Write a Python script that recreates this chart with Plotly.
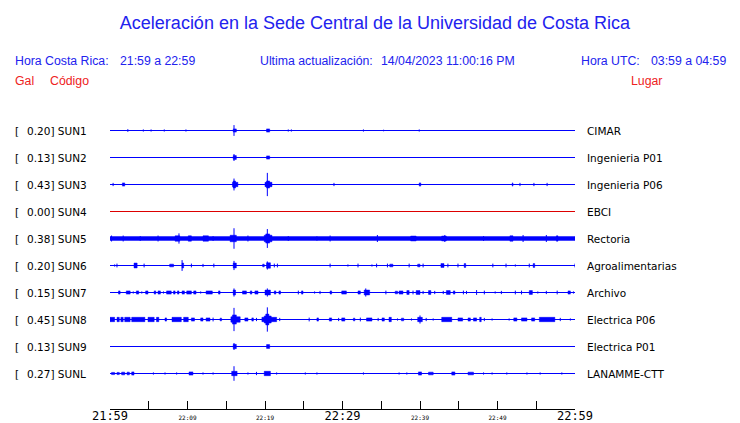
import plotly.graph_objects as go

# ---------------- data ----------------
CODES = ["SUN1", "SUN2", "SUN3", "SUN4", "SUN5", "SUN6", "SUN7", "SUN8", "SUN9", "SUNL"]
PEAKS = [0.20, 0.13, 0.43, 0.00, 0.38, 0.20, 0.15, 0.45, 0.13, 0.27]  # Gal
PLACES = ["CIMAR", "Ingenieria P01", "Ingenieria P06", "EBCI", "Rectoria",
          "Agroalimentarias", "Archivo", "Electrica P06", "Electrica P01", "LANAMME-CTT"]

TICK_MIN = [0, 5, 10, 15, 20, 25, 30, 35, 40, 45, 50, 55, 60]
TICK_LABELS = ["21:59", "", "22:09", "", "22:19", "", "22:29", "", "22:39", "", "22:49", "", "22:59"]
MAJOR_LABELS = ["21:59", "22:29", "22:59"]

TITLE = "Aceleración en la Sede Central de la Universidad de Costa Rica"
HORA_CR = "21:59 a 22:59"
UPDATED = "14/04/2023 11:00:16 PM"
HORA_UTC = "03:59 a 04:59"

# events: (start minute, end minute, half amplitude in Gal), minutes after 21:59
SUN1 = [(2.3, 2.3, 0.05), (4.3, 4.3, 0.04), (5.3, 5.3, 0.04), (7.0, 7.0, 0.04), (9.8, 9.8, 0.04),
        (15.9, 16.3, 0.06), (16.0, 16.0, 0.20), (20.2, 20.6, 0.06), (23.0, 23.0, 0.04),
        (23.4, 23.4, 0.04), (32.7, 32.7, 0.04), (35.3, 35.3, 0.03), (39.9, 39.9, 0.04)]
SUN2 = [(15.9, 16.3, 0.07), (16.0, 16.0, 0.13), (20.2, 20.6, 0.06)]
SUN3 = [(0.4, 0.4, 0.06), (1.6, 1.9, 0.06), (15.8, 16.5, 0.08), (15.9, 16.2, 0.13),
        (16.0, 16.0, 0.22), (20.0, 20.9, 0.08), (20.2, 20.6, 0.13), (20.3, 20.3, 0.43),
        (28.9, 28.9, 0.06), (39.9, 40.1, 0.06), (51.9, 52.0, 0.06), (52.9, 52.9, 0.06),
        (54.7, 54.7, 0.06), (56.4, 56.4, 0.06)]
SUN4 = []
SUN5 = [(0.0, 60.0, 0.07), (0.2, 0.2, 0.11), (1.7, 1.7, 0.11), (3.9, 3.9, 0.09), (6.2, 6.2, 0.11),
        (8.4, 9.0, 0.10), (8.9, 8.9, 0.19), (10.1, 10.5, 0.10), (12.0, 12.7, 0.10),
        (13.3, 13.3, 0.09), (15.5, 16.3, 0.12), (16.0, 16.0, 0.38), (17.8, 17.8, 0.11),
        (19.9, 20.9, 0.12), (20.1, 20.6, 0.17), (20.3, 20.3, 0.35), (23.0, 23.0, 0.09),
        (26.7, 26.7, 0.08), (28.4, 28.4, 0.11), (34.5, 34.5, 0.13), (38.8, 39.5, 0.09),
        (42.8, 43.4, 0.09), (43.2, 43.2, 0.13), (48.2, 48.2, 0.09), (51.6, 52.0, 0.10),
        (53.3, 53.3, 0.13), (56.3, 56.3, 0.13), (57.6, 57.8, 0.10)]
SUN6 = [(0.6, 0.6, 0.04), (0.9, 0.9, 0.07), (3.1, 3.5, 0.09), (4.4, 4.4, 0.07), (7.7, 8.2, 0.05),
        (9.3, 9.3, 0.20), (9.3, 9.5, 0.09), (10.5, 10.5, 0.07), (12.0, 12.0, 0.06),
        (13.4, 13.4, 0.07), (15.9, 16.3, 0.09), (16.0, 16.0, 0.17), (19.7, 19.9, 0.05),
        (20.2, 20.7, 0.10), (20.3, 20.3, 0.15), (21.2, 21.2, 0.07), (21.6, 21.6, 0.07),
        (28.4, 28.4, 0.07), (30.7, 30.7, 0.04), (32.0, 32.0, 0.07), (33.8, 33.8, 0.04),
        (34.4, 34.4, 0.07), (35.8, 35.8, 0.07), (36.1, 36.5, 0.05), (38.6, 38.6, 0.07),
        (39.7, 40.0, 0.05), (40.4, 40.4, 0.07), (42.7, 43.1, 0.07), (43.6, 43.6, 0.07),
        (44.9, 44.9, 0.07), (45.7, 45.9, 0.07), (49.4, 49.4, 0.07), (51.1, 51.1, 0.07),
        (52.3, 52.3, 0.04), (54.1, 54.1, 0.07), (54.6, 54.8, 0.07), (60.0, 60.0, 0.07)]
SUN7 = [(1.1, 1.3, 0.06), (2.1, 2.6, 0.06), (3.0, 3.0, 0.04), (3.4, 3.7, 0.06), (4.1, 4.1, 0.04),
        (4.6, 4.9, 0.06), (5.7, 5.9, 0.06), (6.2, 6.5, 0.06), (6.9, 6.9, 0.04), (7.3, 7.9, 0.06),
        (8.2, 8.4, 0.06), (8.7, 8.9, 0.06), (9.3, 9.6, 0.06), (9.9, 10.5, 0.06), (10.8, 11.1, 0.06),
        (11.7, 11.7, 0.04), (12.4, 13.2, 0.06), (14.0, 14.2, 0.06), (15.9, 16.2, 0.09),
        (16.0, 16.0, 0.15), (17.1, 17.6, 0.06), (18.1, 18.3, 0.06), (18.7, 19.1, 0.06),
        (20.0, 20.7, 0.09), (20.3, 20.3, 0.15), (21.2, 21.4, 0.06), (21.8, 22.0, 0.06),
        (24.3, 24.3, 0.07), (24.7, 24.9, 0.06), (26.4, 26.4, 0.04), (27.1, 27.1, 0.06),
        (28.4, 28.6, 0.06), (29.9, 30.5, 0.06), (32.0, 32.3, 0.06), (32.8, 33.5, 0.09),
        (33.0, 33.0, 0.15), (35.6, 35.6, 0.07), (36.8, 37.1, 0.05), (37.3, 37.8, 0.06),
        (38.3, 38.6, 0.07), (39.1, 39.1, 0.07), (39.5, 40.0, 0.07), (40.4, 40.4, 0.06),
        (41.1, 41.4, 0.07), (41.9, 41.9, 0.06), (43.0, 43.0, 0.06), (43.4, 43.9, 0.07),
        (44.3, 44.5, 0.06), (45.6, 45.6, 0.07), (46.0, 46.0, 0.06), (47.3, 47.3, 0.09),
        (48.3, 48.3, 0.07), (49.7, 49.7, 0.04), (50.5, 50.5, 0.06), (52.3, 52.3, 0.07),
        (53.1, 53.1, 0.07), (54.1, 54.5, 0.07), (55.2, 55.2, 0.04), (56.3, 56.3, 0.06),
        (57.7, 57.7, 0.07), (59.1, 59.4, 0.06), (59.8, 59.8, 0.04)]
SUN8 = [(0.0, 0.6, 0.08), (0.9, 1.2, 0.08), (1.4, 1.7, 0.08), (1.9, 2.6, 0.08), (2.8, 4.5, 0.08),
        (4.9, 5.7, 0.08), (6.0, 6.3, 0.08), (7.1, 7.3, 0.06), (8.0, 9.2, 0.08), (9.5, 10.1, 0.08),
        (10.5, 10.9, 0.06), (11.7, 12.0, 0.06), (12.4, 12.9, 0.06), (13.3, 13.3, 0.07),
        (14.2, 14.4, 0.05), (15.6, 16.8, 0.10), (15.8, 16.3, 0.17), (16.0, 16.0, 0.43),
        (17.4, 17.8, 0.06), (18.3, 18.5, 0.06), (18.9, 18.9, 0.06), (19.6, 21.5, 0.08),
        (19.9, 20.8, 0.13), (20.1, 20.5, 0.20), (20.3, 20.3, 0.45), (21.9, 21.9, 0.06),
        (25.7, 25.7, 0.07), (26.7, 26.9, 0.06), (28.3, 28.6, 0.06), (29.5, 29.5, 0.06),
        (29.9, 30.3, 0.06), (31.4, 31.6, 0.05), (32.3, 32.3, 0.07), (33.1, 33.8, 0.06),
        (34.6, 34.6, 0.06), (35.1, 35.4, 0.06), (36.0, 36.3, 0.08), (37.1, 37.1, 0.04),
        (37.6, 37.9, 0.05), (38.9, 38.9, 0.04), (39.7, 40.3, 0.08), (40.0, 40.0, 0.15),
        (40.8, 40.8, 0.06), (41.7, 41.7, 0.04), (42.8, 44.1, 0.08), (44.9, 45.5, 0.06),
        (46.2, 46.5, 0.06), (46.9, 47.3, 0.06), (47.7, 47.9, 0.08), (48.3, 48.3, 0.06),
        (49.3, 49.3, 0.04), (51.5, 51.5, 0.04), (52.1, 52.5, 0.06), (53.1, 53.8, 0.06),
        (54.4, 54.8, 0.06), (55.4, 57.4, 0.08), (58.1, 58.1, 0.06), (59.4, 59.4, 0.04)]
SUN9 = [(15.9, 16.3, 0.08), (16.0, 16.0, 0.13), (20.2, 20.6, 0.07)]
SUNL = [(0.2, 0.6, 0.04), (0.9, 1.2, 0.04), (1.5, 1.9, 0.05), (2.2, 2.5, 0.05), (2.8, 3.1, 0.06),
        (5.6, 5.6, 0.04), (7.1, 7.1, 0.04), (8.6, 8.6, 0.04), (10.2, 10.7, 0.06), (12.0, 12.0, 0.04),
        (13.3, 13.3, 0.04), (15.7, 16.4, 0.08), (16.0, 16.0, 0.27), (17.8, 17.8, 0.04),
        (18.9, 18.9, 0.06), (19.9, 20.7, 0.08), (21.5, 21.5, 0.04), (25.2, 25.2, 0.04),
        (26.7, 26.7, 0.04), (32.7, 32.7, 0.04), (37.3, 37.3, 0.04), (38.3, 38.3, 0.04),
        (39.8, 40.2, 0.06), (41.1, 41.7, 0.05), (44.1, 44.5, 0.06), (46.2, 46.9, 0.05),
        (48.2, 48.2, 0.04), (49.3, 49.3, 0.04), (51.2, 51.2, 0.04), (53.8, 53.8, 0.04),
        (55.5, 55.5, 0.04), (58.3, 58.3, 0.04)]
EVENTS = [SUN1, SUN2, SUN3, SUN4, SUN5, SUN6, SUN7, SUN8, SUN9, SUNL]

# ---------------- styling / layout ----------------
W, H = 740, 423
ML, MR, MT, MB = 110, 165, 100, 14
PW, PH = W - ML - MR, H - MT - MB
ROW0_PX, ROW_PX = 130.5, 27.0
BLUE_TRACE = "#0000ff"
BLUE_TEXT = "#2222ee"
RED_TEXT = "#ee2222"
RED_TRACE = "#dd0000"
ANN_PAD = 2  # annotation internal padding in px


def px2paper(x, y):
    return (x - ANN_PAD - ML) / PW, (H - MB - y) / PH


fig = go.Figure()
for i, (code, peak, ev) in enumerate(zip(CODES, PEAKS, EVENTS)):
    y0 = -i
    col = RED_TRACE if peak == 0 else BLUE_TRACE
    fig.add_trace(go.Scatter(x=[TICK_MIN[0], TICK_MIN[-1]], y=[y0, y0], mode="lines",
                             line=dict(color=col, width=1), hoverinfo="skip"))
    bx, by, sx, sy = [], [], [], []
    for t0, t1, a in ev:
        if t1 > t0:
            bx += [t0, t1, t1, t0, t0, None]
            by += [y0 - a, y0 - a, y0 + a, y0 + a, y0 - a, None]
        else:
            sx += [t0, t0, None]
            sy += [y0 - a, y0 + a, None]
    if bx:
        fig.add_trace(go.Scatter(x=bx, y=by, mode="lines", fill="toself", fillcolor=col,
                                 line=dict(color=col, width=0.5), hoverinfo="skip"))
    if sx:
        fig.add_trace(go.Scatter(x=sx, y=sy, mode="lines",
                                 line=dict(color=col, width=1), hoverinfo="skip"))

annotations = []
lab_font = dict(family="DejaVu Sans", size=10.5, color="#000000")
for i, (code, peak, place) in enumerate(zip(CODES, PEAKS, PLACES)):
    xb, _ = px2paper(15, 0)
    xv, _ = px2paper(27, 0)
    xp, _ = px2paper(587, 0)
    annotations.append(dict(x=xb, y=-i, xref="paper", yref="y", text="[", showarrow=False,
                            xanchor="left", yanchor="middle", font=lab_font))
    annotations.append(dict(x=xv, y=-i, xref="paper", yref="y", text=f"{peak:.2f}] {code}",
                            showarrow=False, xanchor="left", yanchor="middle", font=lab_font))
    annotations.append(dict(x=xp, y=-i, xref="paper", yref="y", text=place, showarrow=False,
                            xanchor="left", yanchor="middle", font=lab_font))

hdr_blue = dict(family="Liberation Sans", size=12.3, color=BLUE_TEXT)
hdr_red = dict(family="Liberation Sans", size=12.3, color=RED_TEXT)
for (px, py, txt, f) in [(15, 61, "Hora Costa Rica:", hdr_blue), (120, 61, HORA_CR, hdr_blue),
                         (260, 61, "Ultima actualización:", hdr_blue), (381, 61, UPDATED, hdr_blue),
                         (580.5, 61, "Hora UTC:", hdr_blue), (651, 61, HORA_UTC, hdr_blue),
                         (15, 80.5, "Gal", hdr_red), (50, 80.5, "Código", hdr_red),
                         (630.5, 80.5, "Lugar", hdr_red)]:
    x, y = px2paper(px, py)
    annotations.append(dict(x=x, y=y, xref="paper", yref="paper", text=txt, showarrow=False,
                            xanchor="left", yanchor="middle", font=f))

ticktext = [t if (t == "" or t in MAJOR_LABELS) else f"<span style='font-size:6px'>{t}</span>"
            for t in TICK_LABELS]

fig.update_layout(
    width=W, height=H, margin=dict(l=ML, r=MR, t=MT, b=MB, autoexpand=False),
    paper_bgcolor="white", plot_bgcolor="white", showlegend=False, hovermode=False,
    title=dict(text=TITLE, x=375 / W, xanchor="center", y=1 - 23 / H, yanchor="middle",
               font=dict(family="Liberation Sans", size=18, color=BLUE_TEXT)),
    annotations=annotations,
    xaxis=dict(range=[TICK_MIN[0], TICK_MIN[-1]], tickvals=TICK_MIN, ticktext=ticktext,
               ticks="inside", ticklen=8, tickcolor="black", tickwidth=1, automargin=False,
               ticklabelstandoff=-4,
               showline=True, linecolor="black", linewidth=1, showgrid=False, zeroline=False,
               tickfont=dict(family="DejaVu Sans Mono", size=12, color="black")),
    yaxis=dict(range=[-(H - MB - ROW0_PX) / ROW_PX, (ROW0_PX - MT) / ROW_PX], visible=False,
               automargin=False, showgrid=False, zeroline=False),
)

fig.write_html("out.html", config={"displayModeBar": False, "staticPlot": True},
               post_script="document.body.style.margin='0';")
